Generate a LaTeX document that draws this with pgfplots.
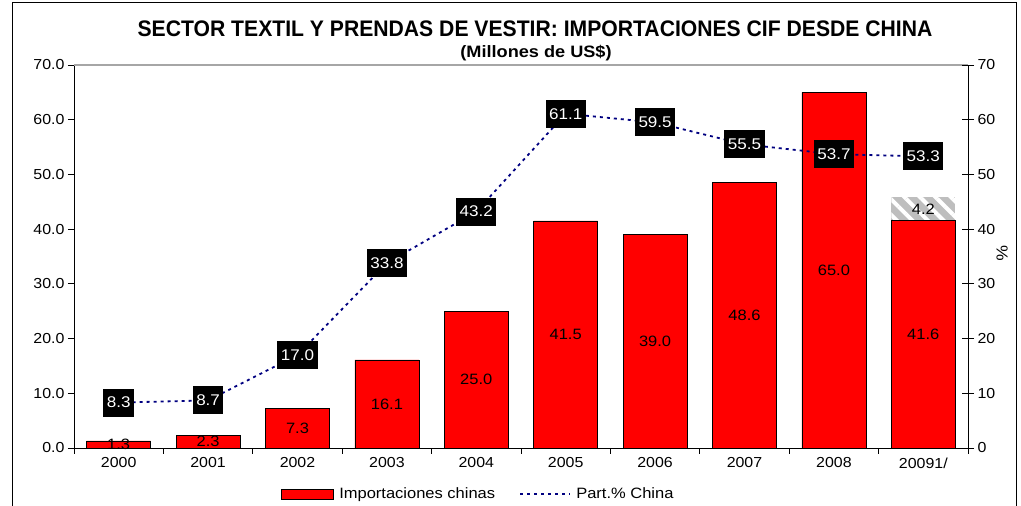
\documentclass[border=0pt]{standalone}
\usepackage{pgfplots}
\pgfplotsset{compat=1.18}
\usepackage{pgfplotstable}
\usepackage{fontspec}
\setmainfont{Liberation Sans}[FakeStretch=1.1]
\newfontfamily\titlefont{Liberation Sans}[FakeStretch=0.94]
\usetikzlibrary{patterns.meta}
\definecolor{navyline}{RGB}{0,0,128}
\definecolor{hatchgray}{RGB}{190,190,190}

\pgfplotstableread{
x imp ext part
0 1.3 0 8.3
1 2.3 0 8.7
2 7.3 0 17.0
3 16.1 0 33.8
4 25.0 0 43.2
5 41.5 0 61.1
6 39.0 0 59.5
7 48.6 0 55.5
8 65.0 0 53.7
9 41.6 4.2 53.3
}\datatable

\begin{document}
\begin{tikzpicture}
\begin{axis}[
  at={(0pt,0pt)}, anchor=south west,
  scale only axis, width=894pt, height=383pt,
  xmin=-0.5, xmax=9.5, ymin=0, ymax=70,
  ybar stacked, bar width=64pt,
  axis x line*=bottom, axis y line*=left,
  axis line style={black, line width=0.8pt},
  xtick={-0.5,0.5,...,9.5}, x tick label as interval,
  xticklabels={2000,2001,2002,2003,2004,2005,2006,2007,2008,20091/},
  ytick={0,10,...,70},
  yticklabel style={/pgf/number format/.cd, fixed, fixed zerofill, precision=1},
  /pgf/number format/assume math mode=true,
  tick align=outside, major tick length=6pt,
  tick style={black, line width=0.8pt},
  ticklabel style={font=\fontsize{14.5}{16}\selectfont},
  clip=false,
  legend style={at={(0.452,-0.12)}, anchor=center, draw=none, fill=none,
    legend columns=2, font=\fontsize{15}{17}\selectfont,
    /tikz/every even column/.style={column sep=22pt}},
]
\addlegendimage{legend image code/.code={\draw[fill=red, draw=black, line width=0.8pt] (0pt,-5pt) rectangle (52pt,5pt); \path (56pt,0pt);}}
\addlegendentry{Importaciones chinas}
\addlegendimage{legend image code/.code={\draw[navyline, line width=1.8pt, dash pattern=on 3pt off 4pt] (0pt,0pt) -- (50pt,0pt); \path (54pt,0pt);}}
\addlegendentry{Part.\% China}
\addplot[forget plot, fill=red, draw=black, line width=0.6pt] table[x=x, y=imp] {\datatable};
\addplot[forget plot, draw=none, fill=hatchgray,
  postaction={pattern={Lines[angle=-45, distance=11pt, line width=4pt]}, pattern color=white}]
  table[x=x, y=ext] {\datatable};
\draw[gray!70, line width=1.2pt] (rel axis cs:0,1) -- (rel axis cs:1,1);
\end{axis}

\begin{axis}[
  at={(0pt,0pt)}, anchor=south west,
  scale only axis, width=894pt, height=383pt,
  xmin=-0.5, xmax=9.5, ymin=0, ymax=70,
  axis y line*=right, axis x line=none,
  axis line style={black, line width=0.8pt},
  ytick={0,10,...,70},
  /pgf/number format/assume math mode=true,
  tick align=center, major tick length=12pt,
  tick style={black, line width=0.8pt},
  ticklabel style={font=\fontsize{14.5}{16}\selectfont},
  clip=false,
]
\addplot[draw=none, mark=none, nodes near coords, point meta=explicit symbolic,
  every node near coord/.append style={anchor=center, text=black, font=\fontsize{15}{17}\selectfont}]
  table[x=x, y expr=\thisrow{imp}/2, meta=imp] {\datatable};
\addplot[draw=none, mark=none, nodes near coords, point meta=explicit symbolic,
  every node near coord/.append style={anchor=center, text=black, font=\fontsize{15}{17}\selectfont}]
  coordinates {(9,43.7) [4.2]};
\addplot[navyline, line width=1.8pt, dash pattern=on 3pt off 4pt, mark=none,
  nodes near coords, point meta=explicit symbolic,
  every node near coord/.append style={anchor=center, fill=black, text=white,
    inner xsep=3.5pt, inner ysep=0pt, minimum height=28pt, font=\fontsize{15.5}{17}\selectfont}]
  table[x=x, y=part, meta=part] {\datatable};
\node[font=\fontsize{16}{17}\selectfont, rotate=-90] at ([xshift=34pt]rel axis cs:1,0.507) {\%};
\end{axis}

\node[font=\titlefont\bfseries\fontsize{22.5}{26}\selectfont] at (461pt,419pt)
  {SECTOR TEXTIL Y PRENDAS DE VESTIR: IMPORTACIONES CIF DESDE CHINA};
\node[font=\bfseries\fontsize{16.5}{19}\selectfont] at (462pt,395pt) {(Millones de US\$)};
\draw[black, line width=1pt] (-61pt,-60pt) -- (-61pt,445pt) -- (942pt,445pt) -- (942pt,-60pt);
\pgfresetboundingbox
\useasboundingbox (-74pt,-58pt) rectangle (947pt,448pt);
\end{tikzpicture}
\end{document}
